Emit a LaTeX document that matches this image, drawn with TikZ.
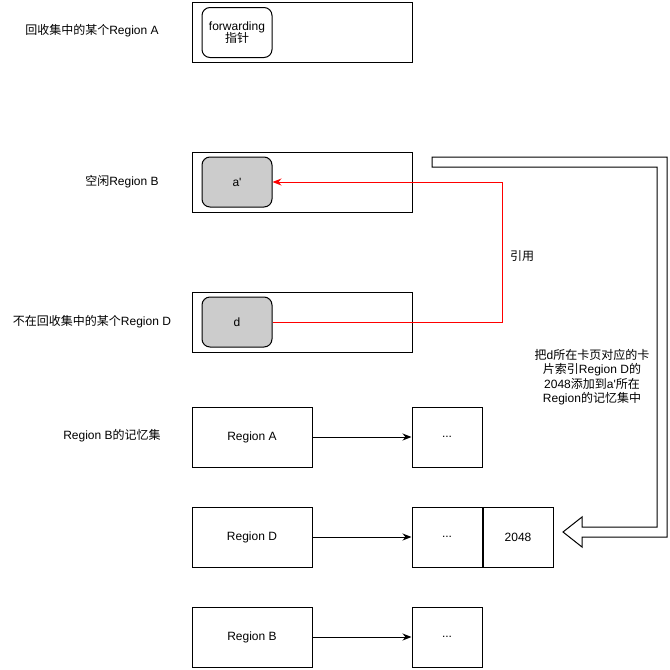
\documentclass[tikz,border=0pt]{standalone}
\usepackage{fontspec}
\setmainfont{Liberation Sans}
\newfontfamily\cjk{Noto Sans CJK SC}
\usetikzlibrary{positioning,arrows.meta}

\begin{document}
\begin{tikzpicture}[x=1pt,y=-1pt,line width=1pt,
  font=\fontsize{12}{14.5}\selectfont,
  region/.style={draw,minimum width=220pt,minimum height=60pt,inner sep=0pt},
  obj/.style={draw,rounded corners=8pt,minimum width=70pt,minimum height=50pt,inner sep=0pt,align=center},
  cell/.style={draw,minimum width=70pt,minimum height=60pt,inner sep=0pt},
  ref/.style={red,-{Stealth[length=9pt,width=7pt]}},
  >={Stealth[length=9pt,width=7pt]}]
 \useasboundingbox (0,0) rectangle (670,670);

 % regions
 \node[region] (regA) at (302,32) {};
 \node[obj,fill=white] (fwd) at (237,32.5) {forwarding\\[-2pt]{\cjk 指针}};
 \node[region] (regB) at (302,182) {};
 \node[obj,fill=black!20] (a) at (237,182) {a\textquotesingle};
 \node[region] (regD) at (302,322) {};
 \node[obj,fill=black!20] (d) at (237,322) {d};

 \node (labA) at (92,31) {{\cjk 回收集中的某个}Region A};
 \node (labB) at (122,182) {{\cjk 空闲}Region B};
 \node (labD) at (92,322) {{\cjk 不在回收集中的某个}Region D};

 % reference d -> a'
 \coordinate (bend) at (502,322);
 \draw[ref] (d) -- (bend) |- (a);
 \node (yy) at (522,256) {{\cjk 引用}};

 % remembered set of B
 \node (labRS) at (112,436) {Region B{\cjk 的记忆集}};
 \node[cell,minimum width=120pt] (rsA) at (252,437) {Region A};
 \node[cell] (dotsA) at (447,437) {...};
 \node[cell,minimum width=120pt] (rsD) at (252,537) {Region D};
 \node[cell] (dotsD) at (447,537) {...};
 \node[cell,right=0pt of dotsD] (card) {2048};
 \node[cell,minimum width=120pt] (rsB) at (252,637) {Region B};
 \node[cell] (dotsB) at (447,637) {...};
 \draw[->] (rsA) -- (dotsA);
 \draw[->] (rsD) -- (dotsD);
 \draw[->] (rsB) -- (dotsB);

 % hollow arrow
 \draw (432,157) -- (667,157) -- (667,537) -- (582,537) -- (582,547) -- (563,532)
   -- (582,517) -- (582,527) -- (657,527) -- (657,167) -- (432,167) -- cycle;
 \node[align=center] (note) at (592,377)
   {{\cjk 把}d{\cjk 所在卡页对应的卡}\\{\cjk 片索引}Region D{\cjk 的}\\2048{\cjk 添加到}a\textquotesingle{\cjk 所在}\\Region{\cjk 的记忆集中}};
\end{tikzpicture}
\end{document}
